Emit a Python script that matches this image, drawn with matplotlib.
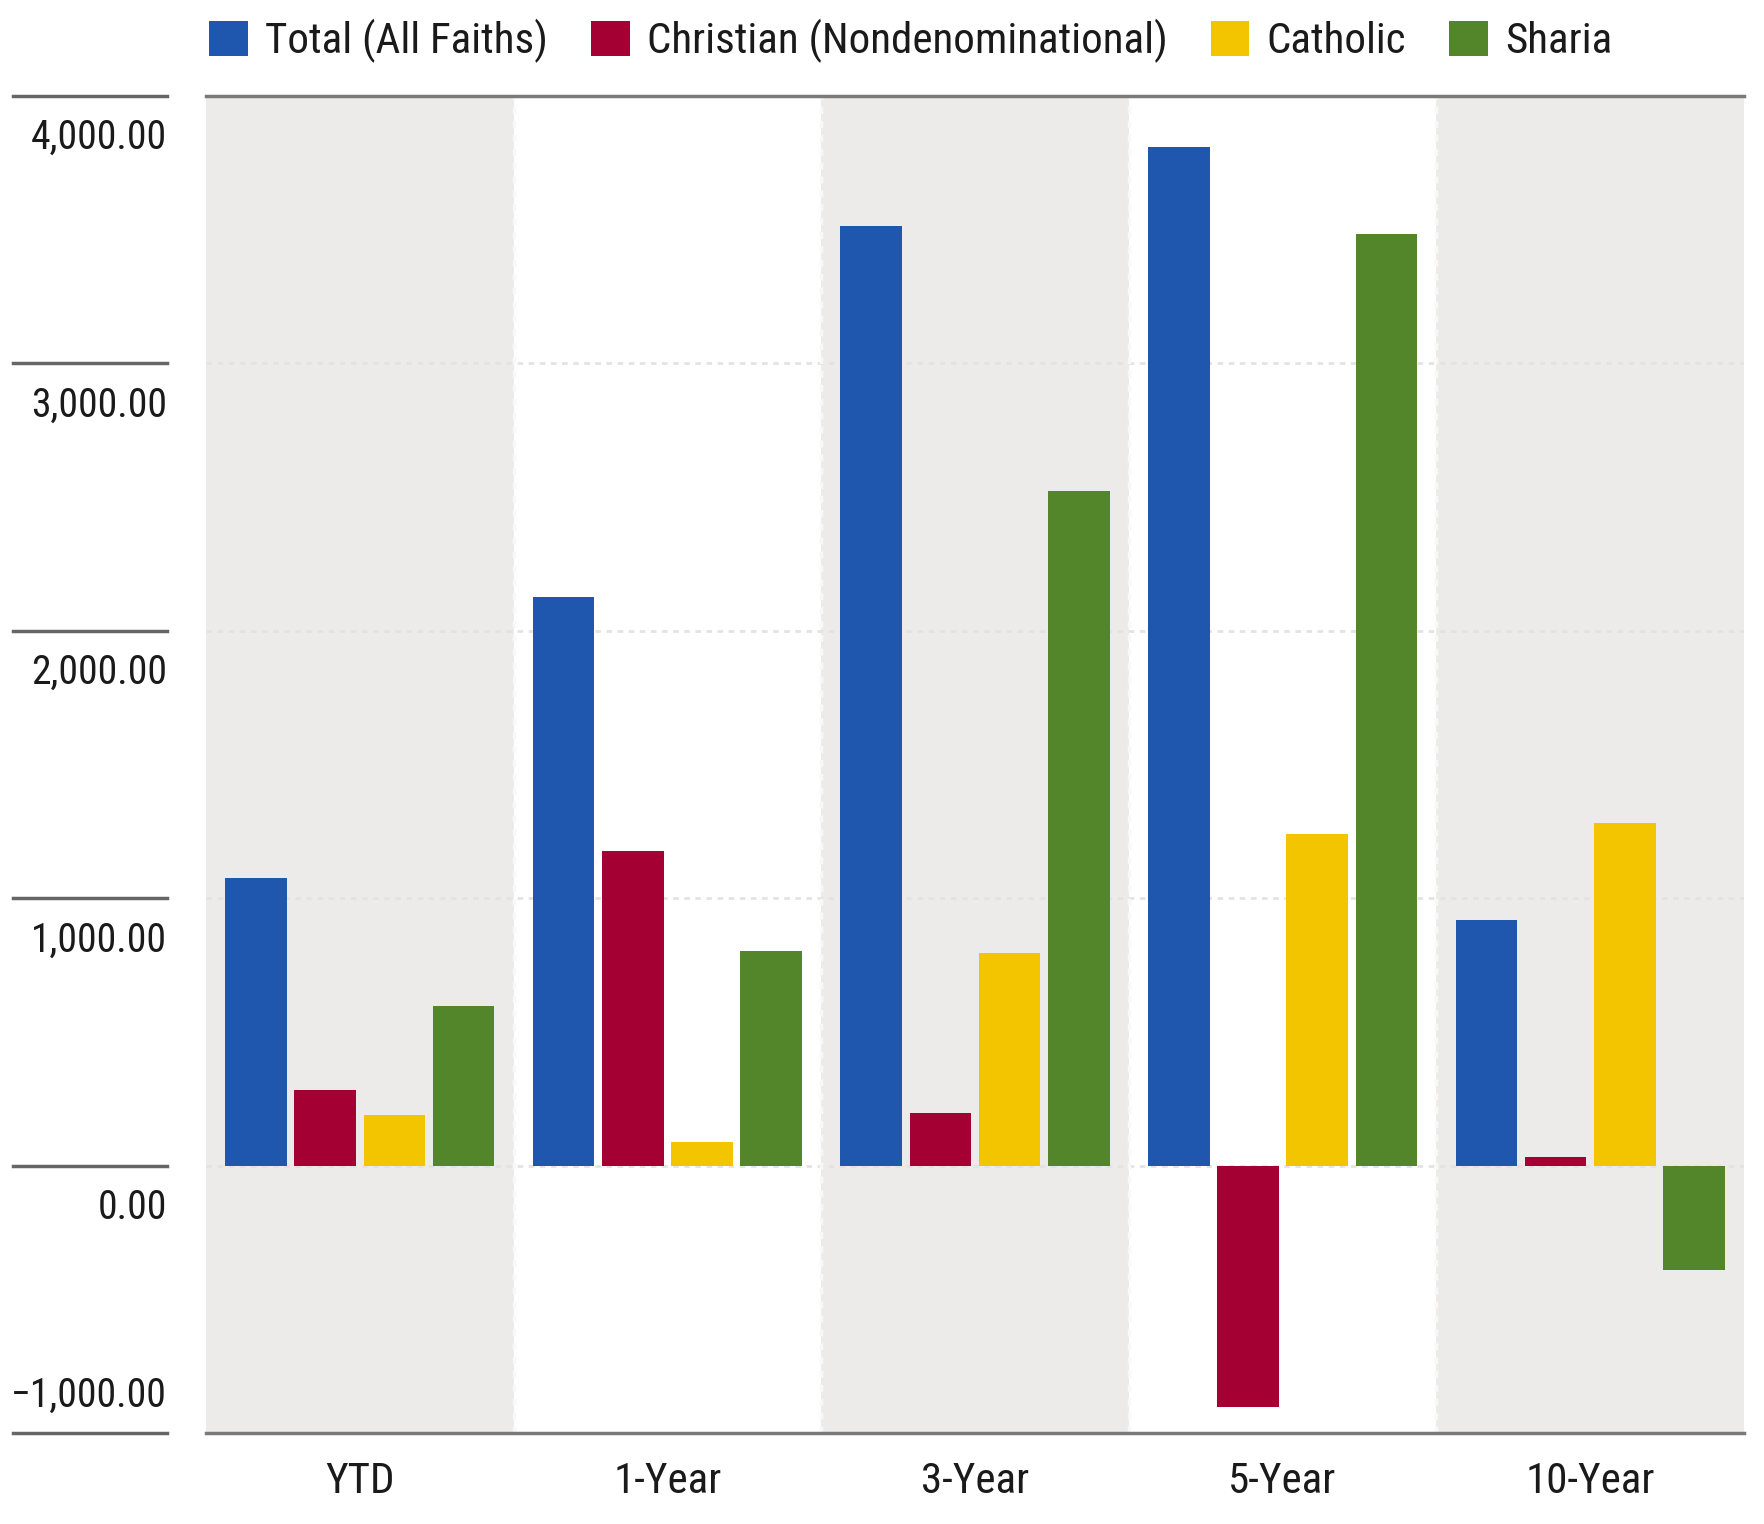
import matplotlib.pyplot as plt
from matplotlib.patches import Patch
from matplotlib.transforms import offset_copy

plt.rcParams['font.family'] = ['Roboto Condensed', 'DejaVu Sans']
plt.rcParams['font.stretch'] = 'condensed'

# data
periods = ['YTD', '1-Year', '3-Year', '5-Year', '10-Year']
series = ['Total (All Faiths)', 'Christian (Nondenominational)', 'Catholic', 'Sharia']
total = [1076, 2126, 3513, 3811, 920]
christian = [282, 1176, 197, -903, 34]
catholic = [189, 88, 794, 1239, 1282]
sharia = [597, 803, 2521, 3483, -391]
y_ticks = [-1000, 0, 1000, 2000, 3000, 4000]

colors = ['#1F56AE', '#A50034', '#F3C400', '#53862A']
band_gray = '#ECEBE9'
line_gray = '#7A7A7A'
text_col = '#1A1A1A'
fs = 31

fig = plt.figure(figsize=(17.64, 15.24), dpi=100)
ax = fig.add_axes([206 / 1764, 1 - 1433 / 1524, (1744 - 206) / 1764, (1433 - 96) / 1524])
lab_ax = fig.add_axes([13 / 1764, 1 - 1433 / 1524, (167 - 13) / 1764, (1433 - 96) / 1524])

ax.set_xlim(-0.5, len(periods) - 0.5)
ax.set_ylim(-1000, 4000)
lab_ax.set_xlim(0, 1)
lab_ax.set_ylim(-1000, 4000)

# alternating background bands
for i in range(len(periods)):
    if i % 2 == 0:
        ax.axvspan(i - 0.5, i + 0.5, color=band_gray, lw=0, zorder=0)

# dotted gridlines (only show up on white bands)
for t in [0, 1000, 2000, 3000]:
    ax.axhline(t, color='#E4E3E1', lw=2, ls=(0, (2, 2)), zorder=1)
for i in range(1, len(periods)):
    ax.axvline(i - 0.5, color='#F8F8F8', lw=2.5, ls=(0, (2, 2)), zorder=1)

# bars
width = 0.2
step = 0.225
values = [total, christian, catholic, sharia]
for k, (name, vals) in enumerate(zip(series, values)):
    xs = [i + (k - 1.5) * step for i in range(len(periods))]
    ax.bar(xs, vals, width=width, color=colors[k], label=name, zorder=3)

# spines
for s in ['left', 'right']:
    ax.spines[s].set_visible(False)
for s in ['top', 'bottom']:
    ax.spines[s].set_color(line_gray)
    ax.spines[s].set_linewidth(2.5)
ax.set_yticks([])
ax.set_xticks(range(len(periods)))
ax.set_xticklabels(periods, fontsize=fs, color=text_col)
ax.tick_params(axis='x', length=0, pad=20)

# y labels on the separate left strip
lab_ax.axis('off')
for t in y_ticks:
    lab_ax.axhline(t, color='#666666', lw=2.5, clip_on=False)
    label = f'{t:,.2f}'.replace('-', '\u2212')
    dy = 27 if t == -1000 else -30
    tr = offset_copy(lab_ax.transData, fig=fig, y=dy, units='points')
    lab_ax.text(1, t, label, transform=tr, ha='right', va='center',
                fontsize=28.5, color=text_col)

# legend across the top
handles = [Patch(facecolor=c, edgecolor='none') for c in colors]
fig.legend(handles, series, loc='center left', bbox_to_anchor=(209 / 1764, 1 - 41 / 1524),
           ncol=4, frameon=False, fontsize=fs, borderpad=0, borderaxespad=0,
           handlelength=0.9, handleheight=0.9, handletextpad=0.4, columnspacing=1.0,
           labelcolor=text_col)

fig.savefig('out.png', dpi=100)
